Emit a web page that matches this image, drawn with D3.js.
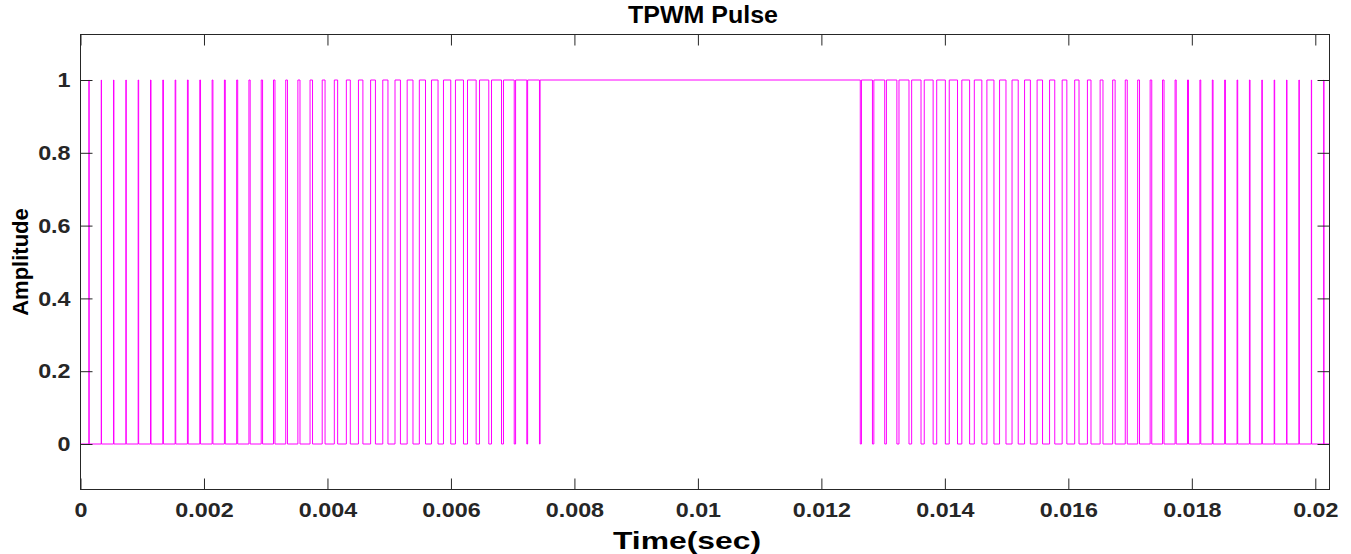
<!DOCTYPE html>
<html><head><meta charset="utf-8">
<script src="https://cdn.jsdelivr.net/npm/d3@7/dist/d3.min.js"></script>
<style>
body{margin:0;background:#fff;}
text{font-family:"Liberation Sans",Arial,Helvetica,sans-serif;font-weight:bold;}
</style>
</head><body>
<svg id="chart" width="1351" height="554"></svg>
<script>
// Pulse edges (microseconds)
const riseUs = [136,336,535,735,934,1134,1333,1533,1732,1932,2132,2331,2530,2728,2927,3126,3324,3521,3718,3915,4111,4306,4502,4699,4896,5094,5291,5488,5685,5879,6073,6268,6463,6657,6851,7047,7242,7444,12649,12850,13053,13257,13462,13666,13868,14071,14275,14477,14681,14886,15088,15291,15494,15696,15900,16103,16309,16515,16718,16922,17123,17325,17526,17729,17930,18131,18332,18532,18733,18933,19134,19334,19535,19735,19936,20136];
const fallUs = [140,340,541,741,942,1142,1343,1543,1744,1944,2145,2345,2546,2748,2949,3150,3352,3555,3758,3961,4165,4370,4574,4777,4980,5182,5385,5588,5791,5997,6203,6408,6613,6819,7025,7229,7434,12630,12827,13026,13223,13419,13614,13810,14008,14205,14401,14599,14795,14990,15188,15385,15582,15780,15976,16173,16367,16561,16758,16954,17153,17351,17550,17747,17946,18145,18344,18544,18743,18943,19142,19342,19541,19741,19940,20140];
const lowLevel = 0, highLevel = 1;
const xTicks = [0,0.002,0.004,0.006,0.008,0.01,0.012,0.014,0.016,0.018,0.02];
const xTickLabels = ["0","0.002","0.004","0.006","0.008","0.01","0.012","0.014","0.016","0.018","0.02"];
const yTicks = [0,0.2,0.4,0.6,0.8,1];
const yTickLabels = ["0","0.2","0.4","0.6","0.8","1"];
const xDomain = [0, 0.02023];
const yDomain = [-0.125, 1.125];
const titleText = "TPWM Pulse", xLabel = "Time(sec)", yLabel = "Amplitude";

const svg = d3.select("#chart");
const L = 80.5, R = 1329.5, T = 34.5, B = 489.5;
const x = d3.scaleLinear().domain(xDomain).range([L, R]);
const y = d3.scaleLinear().domain(yDomain).range([B, T]);
const axisColor = "#262626";

// signal points
const pts = [[xDomain[0], lowLevel]];
riseUs.forEach((r, i) => {
  const f = fallUs[i];
  pts.push([r/1e6, lowLevel],[r/1e6, highLevel],[f/1e6, highLevel],[f/1e6, lowLevel]);
});
pts.push([xDomain[1], lowLevel]);

const line = d3.line().x(d => x(d[0])).y(d => y(d[1]));
svg.append("path").attr("d", line(pts)).attr("fill","none")
  .attr("stroke","#ff00ff").attr("stroke-width",1);

function styleAxis(g){
  g.select(".domain").remove();
  g.selectAll(".tick line").attr("stroke", axisColor);
  g.selectAll(".tick text").attr("fill", axisColor).style("font-size","21px")
    .attr("transform","scale(1.11,1)");
}
svg.append("g").attr("transform",`translate(0,${B})`)
  .call(d3.axisBottom(x).tickValues(xTicks).tickFormat((d,i)=>xTickLabels[i]).tickSize(-11).tickPadding(13))
  .call(styleAxis);
svg.append("g").attr("transform",`translate(0,${T})`)
  .call(d3.axisTop(x).tickValues(xTicks).tickFormat("").tickSize(-11))
  .call(styleAxis);
svg.append("g").attr("transform",`translate(${L},0)`)
  .call(d3.axisLeft(y).tickValues(yTicks).tickFormat((d,i)=>yTickLabels[i]).tickSize(-12).tickPadding(9))
  .call(styleAxis);
svg.append("g").attr("transform",`translate(${R},0)`)
  .call(d3.axisRight(y).tickValues(yTicks).tickFormat("").tickSize(-12))
  .call(styleAxis);

svg.append("rect").attr("x",L).attr("y",T).attr("width",R-L).attr("height",B-T)
  .attr("fill","none").attr("stroke",axisColor).attr("stroke-width",1);

svg.append("text").attr("x",703).attr("y",23).attr("text-anchor","middle")
  .attr("textLength",150).attr("lengthAdjust","spacingAndGlyphs")
  .style("font-size","23px").attr("fill","#000").text(titleText);
svg.append("text").attr("x",687).attr("y",549).attr("text-anchor","middle")
  .attr("textLength",148).attr("lengthAdjust","spacingAndGlyphs")
  .style("font-size","24px").attr("fill","#000").text(xLabel);
svg.append("text").attr("transform",`translate(28,${(T+B)/2}) rotate(-90)`).attr("text-anchor","middle")
  .style("font-size","22px").attr("fill","#000").text(yLabel);
</script>
</body></html>
